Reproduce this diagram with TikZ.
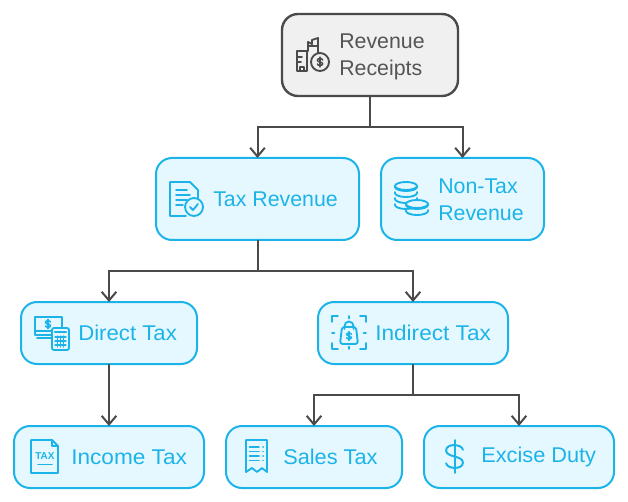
\documentclass[tikz,border=0pt]{standalone}
\usepackage{fontspec}
\setmainfont{Liberation Sans}
\usetikzlibrary{arrows.meta}
\definecolor{cy}{HTML}{1CB4E8}
\definecolor{cyf}{HTML}{E6F8FF}
\definecolor{gr}{HTML}{4A4A4A}
\definecolor{grf}{HTML}{F0F0F0}
\definecolor{grt}{HTML}{555555}
\tikzset{
  x=0.75pt,y=-0.75pt,
  box/.style={draw=cy,fill=cyf,line width=1.5pt,rounded corners=12pt,inner sep=0pt,outer sep=0pt},
  rootbox/.style={box,draw=gr,fill=grf,line width=1.8pt},
  lbl/.style={anchor=west,inner sep=0pt,text=cy,font=\fontsize{16}{20.25}\selectfont,align=left},
  link/.style={draw=gr,line width=1.5pt},
  arrow/.style={link,-{Straight Barb[length=6.5pt,width=11pt,line width=1.5pt]}},
  ico/.style={draw=cy,line width=1.4pt,fill=none,line cap=round,line join=round},
  icog/.style={ico,draw=gr}
}
\newcommand{\bx}[6]{\node[#1,minimum width=#4*0.75pt,minimum height=#5*0.75pt] (#6) at (#2,#3) {};}
\newcommand{\stretchtext}[2]{{\addfontfeature{FakeStretch=#1}#2}}
% style, centre x, centre y, half-scale x, half-scale y
\newcommand{\dollarsign}[5]{%
  \begin{scope}[shift={(#2,#3)},x=#4*0.75pt,y=-#5*0.75pt]
    \draw[#1] (0.8,-0.55) .. controls (0.7,-1.05) and (-0.8,-1.1) .. (-0.8,-0.5)
      .. controls (-0.8,0.1) and (0.8,-0.1) .. (0.8,0.5)
      .. controls (0.8,1.1) and (-0.7,1.05) .. (-0.8,0.55);
    \draw[#1] (0,-1.35) -- (0,1.35);
  \end{scope}}
\begin{document}
\begin{tikzpicture}
\useasboundingbox (0,0) rectangle (628,502);
% boxes
\bx{rootbox}{370}{55}{176}{82}{root}
\bx{box}{257.5}{199}{203}{82}{tax}
\bx{box}{462.5}{199}{163}{82}{nontax}
\bx{box}{109}{333}{176}{62}{direct}
\bx{box}{413}{333}{190}{62}{indirect}
\bx{box}{109}{457}{190}{62}{income}
\bx{box}{314}{457}{176}{62}{sales}
\bx{box}{519}{457}{190}{62}{excise}
% labels
\node[lbl,text=grt] (troot) at (339,56.5) {Revenue\\Receipts};
\node[lbl] (ttax) at (213,199.5) {Tax Revenue};
\node[lbl] (tnontax) at (438,200) {Non-Tax\\Revenue};
\node[lbl] (tdirect) at (78,333) {\stretchtext{1.04}{Direct Tax}};
\node[lbl] (tindirect) at (375,333) {\stretchtext{1.06}{Indirect Tax}};
\node[lbl] (tincome) at (71,457) {\stretchtext{1.06}{Income Tax}};
\node[lbl] (tsales) at (283,457) {\stretchtext{1.02}{Sales Tax}};
\node[lbl] (texcise) at (481,457) {\stretchtext{1.02}{Excise Duty}};
% connectors
\coordinate (j1) at (370,127);
\coordinate (j2) at (257.5,271);
\coordinate (j3) at (413,395);
\draw[link] (root.south) -- (j1);
\draw[arrow] (j1) -| (tax.north);
\draw[arrow] (j1) -| (nontax.north);
\draw[link] (tax.south) -- (j2);
\draw[arrow] (j2) -| (direct.north);
\draw[arrow] (j2) -| (indirect.north);
\draw[arrow] (direct.south) -- (income.north);
\draw[link] (indirect.south) -- (j3);
\draw[arrow] (j3) -| (sales.north);
\draw[arrow] (j3) -| (excise.north);
% root icon
\draw[icog] (297,71) -- (297,51) -- (307,51) -- (307,71) -- cycle;
\draw[icog] (297,57) -- (302,57) (297,62) -- (301,62) (300,71) -- (300,67) -- (304,67) -- (304,71);
\draw[icog] (308,51) -- (308,42) -- (312,44) -- (312,40) -- (318,38) -- (318,53) (308,46) -- (318,46);
\draw[icog] (320,62) circle (9);
\dollarsign{icog,line width=1.1pt}{320}{62}{3.4}{3.6}
% tax revenue icon
\draw[ico] (186,216) -- (170,216) -- (170,182) -- (190,182) -- (198,190) -- (198,198);
\draw[ico] (176,190) -- (187,190) (176,195) -- (190,195) (176,200) -- (187,200) (176,205) -- (183,205);
\draw[ico] (194,207) circle (9);
\draw[ico] (190,207) -- (193,210) -- (198,204);
% coins icon
\foreach \yy in {204,198,192,186}{
  \draw[ico,fill=cyf] (395,\yy) -- (395,\yy+1) arc[start angle=180,end angle=0,x radius=11,y radius=4] -- (417,\yy);
}
\draw[ico,fill=cyf] (406,186) ellipse[x radius=11,y radius=4];
\foreach \yy in {210,204}{
  \draw[ico,fill=cyf] (406,\yy) -- (406,\yy+1) arc[start angle=180,end angle=0,x radius=11,y radius=4] -- (428,\yy);
}
\draw[ico,fill=cyf] (417,204) ellipse[x radius=11,y radius=4];
% direct tax icon
\draw[ico] (35,317) rectangle (62,331);
\draw[ico] (35,331) -- (35,335) -- (52,335) (37,338) -- (52,338);
\dollarsign{ico,line width=1.2pt}{48}{324}{3.2}{3.4}
\draw[ico,fill=cyf,rounded corners=1.5pt] (52,328) rectangle (69,350);
\draw[ico,line width=1.8pt] (55,332) -- (66,332);
\foreach \yy in {337,341,345}{\draw[ico,line width=.8pt] (55,\yy) -- (66,\yy);}
\foreach \xx in {57.5,60.5,63.5}{\draw[ico,line width=.8pt] (\xx,336) -- (\xx,347);}
% indirect tax icon
\draw[ico] (332,322) -- (332,316) -- (338,316) (360,316) -- (366,316) -- (366,322)
  (366,343) -- (366,349) -- (360,349) (338,349) -- (332,349) -- (332,343);
\draw[ico] (349,316) -- (349,318.5) (349,346.5) -- (349,349) (332,333) -- (334.5,333) (363.5,333) -- (366,333);
\draw[ico,rounded corners=2pt] (342,327) -- (356,327) -- (358,344) -- (340,344) -- cycle;
\draw[ico] (344.5,329) -- (344.5,326) arc[start angle=180,end angle=360,radius=4.5] -- (353.5,329);
\dollarsign{ico,line width=1.1pt}{349}{336}{3}{3.2}
% income tax icon
\draw[ico] (52,440) -- (31,440) -- (31,473) -- (58,473) -- (58,446) -- cycle;
\draw[ico] (52,440) -- (52,446) -- (58,446);
\node[text=cy,font=\fontsize{7.5}{8}\bfseries\selectfont,inner sep=0pt] (ticon) at (45,456) {TAX};
\draw[ico] (38,464.5) -- (52,464.5);
% sales tax icon
\draw[ico] (246,472) -- (246,440) -- (267,440) -- (267,472) -- (262,468) -- (257,472) -- (252,468) -- cycle;
\foreach \yy in {447,451.5,456,460.5}{
  \draw[ico] (249.5,\yy) -- (259,\yy);
  \draw[ico] (263,\yy) -- (263.2,\yy);
}
% excise icon
\dollarsign{ico,line width=1.5pt}{454.5}{456.5}{10.5}{12.2}
\end{tikzpicture}
\end{document}
